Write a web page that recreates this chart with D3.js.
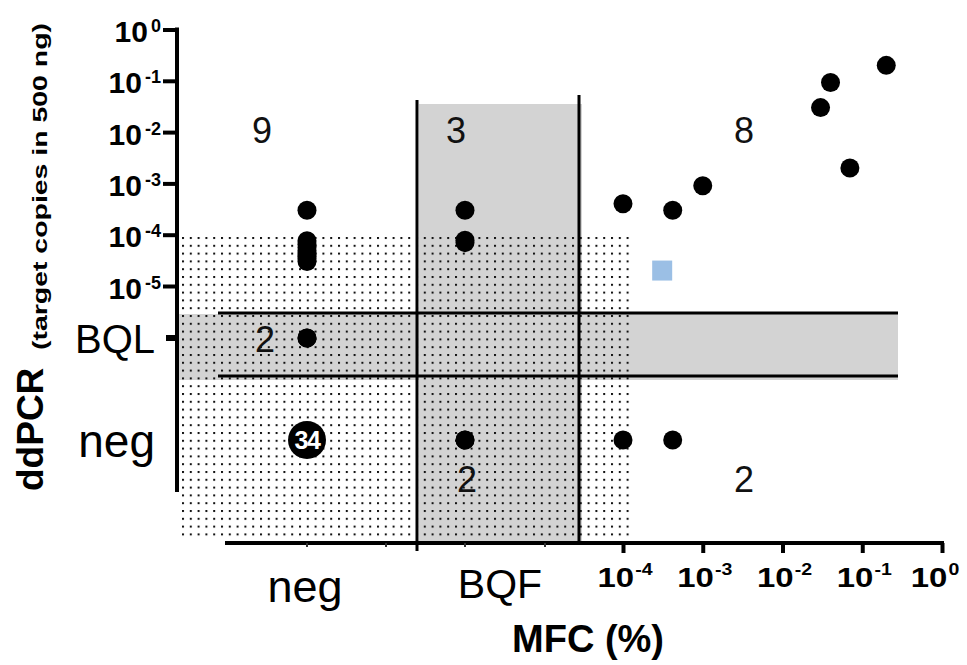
<!DOCTYPE html>
<html>
<head>
<meta charset="utf-8">
<script src="https://cdn.jsdelivr.net/npm/d3@7/dist/d3.min.js"></script>
<style>
  html, body { margin: 0; padding: 0; background: #fff; }
  svg { display: block; font-family: "Liberation Sans", Arial, sans-serif; }
</style>
</head>
<body>
<svg id="chart" width="967" height="665"></svg>
<script>
// ---------------- data ----------------
const yTickExps = [0, -1, -2, -3, -4, -5];          // ddPCR decades 10^e
const xTickExps = [-4, -3, -2, -1, 0];              // MFC decades 10^e
const yCategories = ["BQL", "neg"];
const xCategories = ["neg", "BQF"];

// each point: MFC value (number or category), ddPCR value (number or category)
const pointMFC = ["neg","neg","neg","neg","neg","neg","neg","neg","neg","neg","neg",
                  "BQF","BQF","BQF","BQF","BQF",
                  1e-4, 4.2e-4, 1e-3, 3e-2, 4e-2, 0.2, 0.07,
                  1e-4, 4.2e-4];
const pointDD  = [3e-4, 7.6e-5, 6.5e-5, 5.6e-5, 4.9e-5, 4.3e-5, 3.8e-5, 3.4e-5, 3.0e-5, "BQL", "BQL",
                  3e-4, 7.8e-5, 7.0e-5, "neg", "neg",
                  4e-4, 3e-4, 9e-4, 3e-2, 9.3e-2, 0.2, 2e-3,
                  "neg", "neg"];
// the big "34" marker (neg / neg)
const bigMFC = "neg", bigDD = "neg", bigCount = 34;
// blue square
const squareMFC = 3.1e-4, squareDD = 2e-5;
// region counts
const regionCounts = [9, 3, 8, 2, 2, 2];

// ---------------- layout ----------------
const svg = d3.select("#chart");
const yLog = d3.scaleLog().domain([1e-5, 1]).range([286, 29.5]);
const xLog = d3.scaleLog().domain([1e-4, 1]).range([623, 942]);
const yCat = d3.scaleOrdinal().domain(yCategories).range([338, 440]);
const xCat = d3.scaleOrdinal().domain(xCategories).range([307, 465]);
const X = v => (typeof v === "number") ? xLog(v) : xCat(v);
const Y = v => (typeof v === "number") ? yLog(v) : yCat(v);

const axisX0 = 177, axisY0 = 543;
const GRAY = "#d3d3d3";

// stipple pattern
const defs = svg.append("defs");
const pat = defs.append("pattern").attr("id", "dots")
  .attr("patternUnits", "userSpaceOnUse")
  .attr("x", 182).attr("y", 237).attr("width", 7.8).attr("height", 7.8);
pat.append("rect").attr("x", 0).attr("y", 0).attr("width", 2).attr("height", 2).attr("fill", "#111");

// gray bands
svg.append("rect").attr("x", 419).attr("y", 104).attr("width", 163).attr("height", axisY0 - 104)
  .attr("fill", GRAY);
svg.append("rect").attr("x", axisX0 + 1).attr("y", 314).attr("width", 898 - axisX0 - 1).attr("height", 66)
  .attr("fill", GRAY);

// stippled area: ddPCR < 1e-4 and MFC < 1e-4
svg.append("rect").attr("x", axisX0 + 2).attr("y", yLog(1e-4))
  .attr("width", 630 - axisX0 - 2).attr("height", 539 - yLog(1e-4))
  .attr("fill", "url(#dots)");

// region separator lines
const lineG = svg.append("g").attr("stroke", "#000").attr("stroke-width", 3);
lineG.append("line").attr("x1", 417).attr("x2", 417).attr("y1", 100).attr("y2", 551);
lineG.append("line").attr("x1", 579).attr("x2", 579).attr("y1", 95).attr("y2", axisY0);
lineG.append("line").attr("x1", 218).attr("x2", 898).attr("y1", 313).attr("y2", 313);
lineG.append("line").attr("x1", 218).attr("x2", 898).attr("y1", 376).attr("y2", 376);

// ---------------- axes ----------------
// y axis
const yAxis = d3.axisLeft(yLog).tickValues(yTickExps.map(e => Math.pow(10, e)))
  .tickSize(14).tickFormat("");
const yAxG = svg.append("g").attr("transform", `translate(${axisX0},0)`).call(yAxis);
yAxG.select(".domain").remove();
yAxG.selectAll(".tick line").attr("stroke", "#000").attr("stroke-width", 4);
svg.append("line").attr("x1", axisX0).attr("x2", axisX0).attr("y1", yLog(1) - 2).attr("y2", 492)
  .attr("stroke", "#000").attr("stroke-width", 4);
// BQL tick
svg.append("line").attr("x1", 166).attr("x2", axisX0).attr("y1", yCat("BQL")).attr("y2", yCat("BQL"))
  .attr("stroke", "#000").attr("stroke-width", 6);

// y tick labels
yTickExps.forEach(e => {
  const t = svg.append("text").attr("x", 161).attr("y", yLog(Math.pow(10, e)) + 12.5)
    .attr("text-anchor", "end").attr("font-weight", "bold").attr("font-size", 30).attr("fill", "#000");
  t.append("tspan").text("10");
  t.append("tspan").attr("dx", 3).attr("dy", -10).attr("font-size", 18).text(e === 0 ? "0" : "-" + Math.abs(e));
});
// y category labels
svg.append("text").attr("x", 155).attr("y", yCat("BQL") + 15).attr("text-anchor", "end")
  .attr("font-size", 40).text("BQL");
svg.append("text").attr("x", 155).attr("y", yCat("neg") + 17).attr("text-anchor", "end")
  .attr("font-size", 46).text("neg");

// x axis
svg.append("line").attr("x1", 225).attr("x2", 944).attr("y1", axisY0).attr("y2", axisY0)
  .attr("stroke", "#000").attr("stroke-width", 4);
const xAxis = d3.axisBottom(xLog).tickValues(xTickExps.map(e => Math.pow(10, e)))
  .tickSize(10).tickFormat("");
const xAxG = svg.append("g").attr("transform", `translate(0,${axisY0})`).call(xAxis);
xAxG.select(".domain").remove();
xAxG.selectAll(".tick line").attr("stroke", "#000").attr("stroke-width", 4);
// minor category ticks
[307, 386, 465, 545].forEach(x => {
  svg.append("line").attr("x1", x).attr("x2", x).attr("y1", axisY0).attr("y2", axisY0 + 4)
    .attr("stroke", "#333").attr("stroke-width", 2);
});
// x tick labels
xTickExps.forEach(e => {
  const cx = Math.min(xLog(Math.pow(10, e)) + 2, 935);
  const g = svg.append("g").attr("transform", `translate(${cx},587) scale(1.22,1)`);
  const t = g.append("text").attr("x", 0).attr("y", 0).attr("text-anchor", "middle")
    .attr("font-weight", "bold").attr("font-size", 27).attr("fill", "#000");
  t.append("tspan").text("10");
  t.append("tspan").attr("dx", 1).attr("dy", -12).attr("font-size", 16).text(e === 0 ? "0" : "-" + Math.abs(e));
});
// x category labels
svg.append("text").attr("x", 305).attr("y", 602).attr("text-anchor", "middle")
  .attr("font-size", 45).text("neg");
svg.append("text").attr("x", 500).attr("y", 598).attr("text-anchor", "middle")
  .attr("font-size", 41).text("BQF");

// axis titles
svg.append("text").attr("x", 588).attr("y", 652).attr("text-anchor", "middle")
  .attr("font-weight", "bold").attr("font-size", 38).text("MFC (%)");
const yt = svg.append("g").attr("transform", "translate(43,491) rotate(-90)");
yt.append("text").attr("x", 0).attr("y", 0).attr("font-weight", "bold").attr("font-size", 37).text("ddPCR");
yt.append("text").attr("x", 141).attr("y", 4).attr("font-weight", "bold").attr("font-size", 21)
  .attr("textLength", 327).attr("lengthAdjust", "spacingAndGlyphs").text("(target copies in 500 ng)");

// ---------------- marks ----------------
svg.append("g").selectAll("circle").data(pointMFC.map((m, i) => [m, pointDD[i]])).join("circle")
  .attr("cx", d => X(d[0])).attr("cy", d => Y(d[1])).attr("r", 9.5).attr("fill", "#000");

svg.append("circle").attr("cx", X(bigMFC)).attr("cy", Y(bigDD)).attr("r", 19).attr("fill", "#000");
svg.append("text").attr("x", X(bigMFC)).attr("y", Y(bigDD) + 9).attr("text-anchor", "middle")
  .attr("font-weight", "bold").attr("font-size", 25).attr("letter-spacing", -1.5).attr("fill", "#fff").text(bigCount);

svg.append("rect").attr("x", xLog(squareMFC) - 10).attr("y", yLog(squareDD) - 10)
  .attr("width", 20).attr("height", 20).attr("fill", "#9bbfe5");

// region counts
const countPos = [[262, 143], [456, 143], [744, 143], [265, 352], [467, 492], [744, 492]];
regionCounts.forEach((c, i) => {
  svg.append("text").attr("x", countPos[i][0]).attr("y", countPos[i][1]).attr("text-anchor", "middle")
    .attr("font-size", 36).attr("fill", "#111").text(c);
});
</script>
</body>
</html>
